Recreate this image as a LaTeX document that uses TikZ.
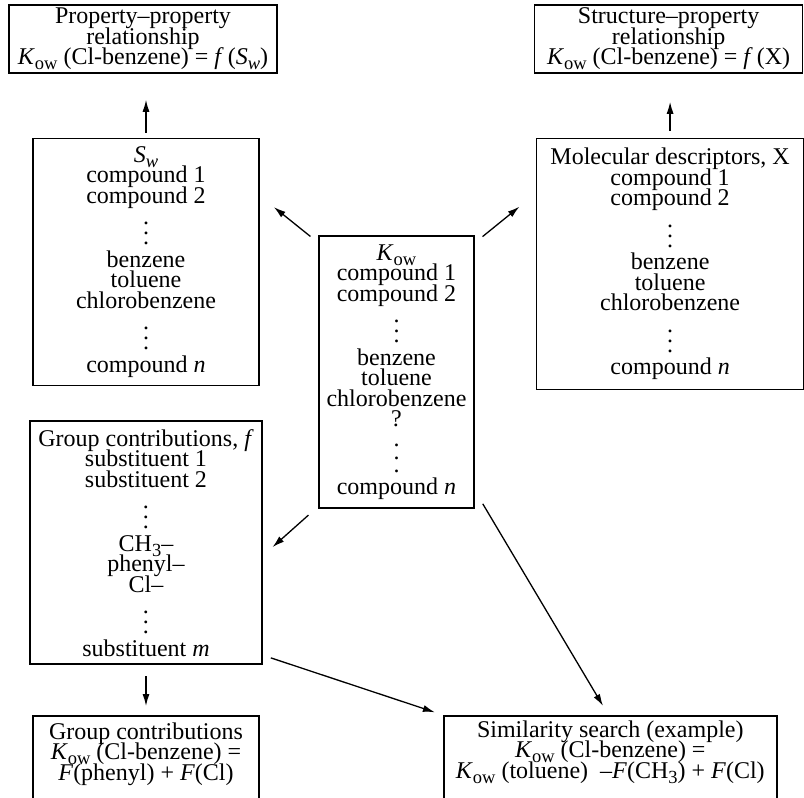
\documentclass[tikz,border=0pt]{standalone}
\usepackage{fontspec}
\setmainfont{Liberation Serif}
\usetikzlibrary{positioning,arrows.meta,calc}
\newcommand\lowtext[1]{\raisebox{-5pt}{\fontsize{18.5}{18.5}\selectfont #1}}
\newcommand\Kow{\textit{K}\lowtext{ow}}
\newcommand\Sw{\textit{S}\lowtext{\textit{w}}}
\newcommand\coldots[1][10pt]{\vbox{\baselineskip=#1\lineskiplimit=-\maxdimen\hbox{.}\hbox{.}\hbox{.}}}
\tikzset{
  flow/.style={-{Latex[length=12pt,width=7pt]},line width=1.3pt},
  box/.style={draw,line width=1.6pt,align=center,inner sep=2pt,
    font={\fontsize{24}{20.5}\selectfont\lineskiplimit=-100pt}},
  openbox/.style={box,inner ysep=7pt,text depth=40pt}
}

\begin{document}
\begin{tikzpicture}[x=1pt,y=-1pt]
  \useasboundingbox (0,0) rectangle (804,798);
  \clip (0,0) rectangle (804,798);
  \node[box,minimum width=155pt,minimum height=272pt] (kow) at (396.5,372)
    {\Kow\\ compound 1\\ compound 2\\[21pt] \coldots\\[2pt] benzene\\ toluene\\
     chlorobenzene\\ ?\\[25pt] \coldots[13pt]\\[2pt] compound \textit{n}};

  \node[box,minimum width=268pt,minimum height=68pt] (pp) at (143,39)
    {Property--property\\ relationship\\ \Kow\ (Cl-benzene) = \textit{f}\,(\Sw)};
  \node[box,minimum width=226pt,minimum height=247pt,below=64pt of pp.south,anchor=north,xshift=3pt] (sw)
    {\Sw\\ compound 1\\ compound 2\\[21pt] \coldots\\[2pt] benzene\\ toluene\\
     chlorobenzene\\[21pt] \coldots\\[2pt] compound \textit{n}};
  \node[box,minimum width=232pt,minimum height=243pt,below=34pt of sw] (gcf)
    {Group contributions, \textit{f}\\ substituent 1\\ substituent 2\\[21pt] \coldots\\[2pt]
     CH\lowtext{3}--\\ phenyl--\\ Cl--\\[21pt] \coldots\\[2pt] substituent \textit{m}};
  \node[openbox,minimum width=226pt,below=50pt of gcf] (gc)
    {Group contributions\\ \Kow\ (Cl-benzene) =\\ \textit{F}(phenyl) + \textit{F}(Cl)};

  \node[box,minimum width=268pt,minimum height=68pt,right=256pt of pp] (sp)
    {Structure--property\\ relationship\\ \Kow\ (Cl-benzene) = \textit{f}\,(X)};
  \node[box,minimum width=267pt,minimum height=251pt,below=64pt of sp.south,anchor=north,xshift=1.5pt] (md)
    {Molecular descriptors, X\\ compound 1\\ compound 2\\[21pt] \coldots\\[2pt] benzene\\ toluene\\
     chlorobenzene\\[21pt] \coldots\\[2pt] compound \textit{n}};
  \node[openbox,minimum width=333pt,inner ysep=5pt,anchor=north west] (sim) at (443,715)
    {Similarity search (example)\\ \Kow\ (Cl-benzene) =\\
     \Kow\ (toluene)\ \ --\textit{F}(CH\lowtext{3}) + \textit{F}(Cl)};

  \draw[flow,shorten <=5pt,shorten >=26pt] (sw.north) -- (sw.north |- pp.south);
  \draw[flow,shorten <=7pt,shorten >=28pt] (md.north) -- (md.north |- sp.south);
  \draw[flow,shorten <=10pt,shorten >=18pt] ($(kow.north west)+(0,7.5)$) -- ($(sw.north east)+(0,58)$);
  \draw[flow,shorten <=10pt,shorten >=21pt] ($(kow.north east)+(0,7.7)$) -- ($(md.north west)+(0,55.6)$);
  \draw[flow,shorten <=13pt,shorten >=13pt] ($(kow.south west)+(0,-2.4)$) -- ($(gcf.north east)+(0,135.4)$);
  \draw[flow,shorten <=15.6pt,shorten >=10.5pt] ($(kow.south east)+(0,-18.4)$) -- ($(sim.north west)+(165.4,0)$);
  \draw[flow,shorten <=8.5pt,shorten >=8.5pt] ($(gcf.south east)+(0,-9.8)$) -- (sim.north west);
  \draw[flow,shorten <=11pt,shorten >=9pt] (gcf.south) -- (gcf.south |- gc.north);
\end{tikzpicture}
\end{document}
